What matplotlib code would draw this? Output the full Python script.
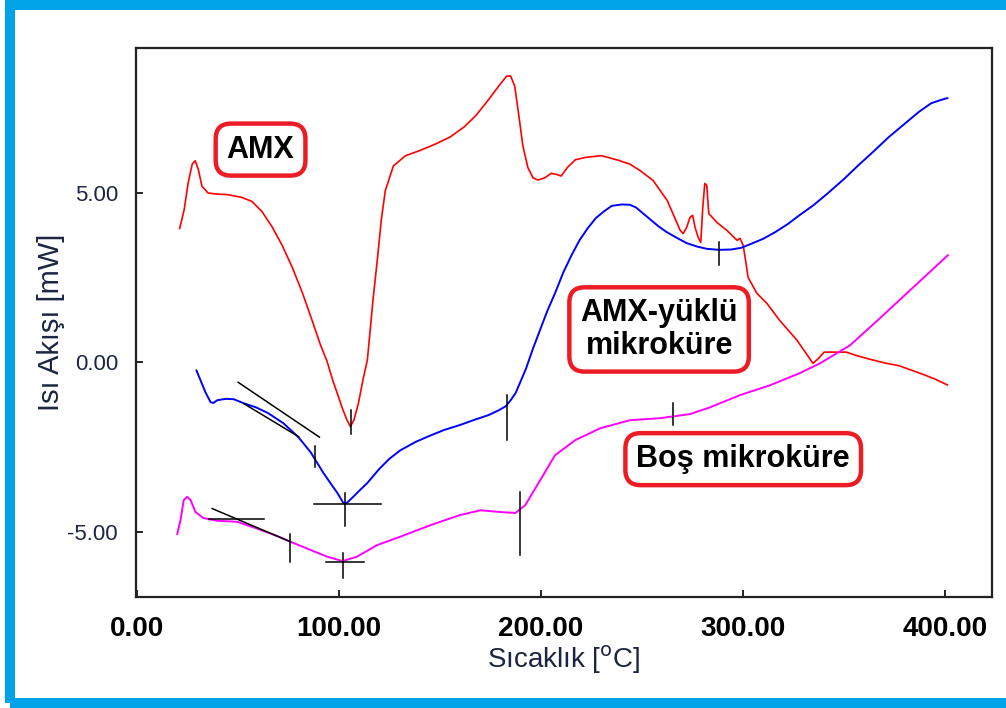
import matplotlib.pyplot as plt
from matplotlib.patches import Rectangle

# AMX (red)
amx_x = [21.3, 23.5, 25.5, 27.5, 29, 30.5, 32.3, 35.3, 39, 45, 52, 57, 62, 67, 72, 77, 82, 87, 91,
         94, 97, 100, 102, 104, 105.7, 107.5, 109.7, 112, 114.1, 115.6, 117, 119, 121, 123, 127, 133,
         140, 148, 155, 162, 168, 174, 179, 183, 185, 187, 189, 191, 193.5, 196, 198.5, 202, 205,
         207.5, 210, 213, 217, 222, 230, 238, 244, 249, 255.4, 262.4, 268.8, 270.3, 272, 273.7, 275,
         276.2, 277.7, 279, 280, 281, 282, 282.6, 283, 287, 292, 297, 298.4, 300, 301.4, 302.4, 306.7,
         311.7, 318, 326.6, 334.5, 337, 340, 346, 351, 356, 362, 370, 377, 384, 390, 395, 401]
amx_y = [3.95, 4.5, 5.3, 5.85, 5.95, 5.7, 5.2, 5.0, 4.97, 4.95, 4.87, 4.75, 4.45, 4.0, 3.45, 2.8,
         2.05, 1.2, 0.5, 0.06, -0.53, -1.05, -1.4, -1.7, -1.9, -1.7, -1.21, -0.5, 0.06, 1.0, 1.9,
         3.0, 4.2, 5.07, 5.8, 6.1, 6.25, 6.45, 6.65, 6.95, 7.3, 7.75, 8.15, 8.45, 8.45, 8.15, 7.3,
         6.4, 5.75, 5.45, 5.38, 5.45, 5.58, 5.55, 5.5, 5.75, 5.98, 6.05, 6.1, 5.97, 5.85, 5.66, 5.37,
         4.78, 3.9, 3.8, 3.98, 4.28, 4.34, 3.98, 3.69, 3.54, 4.57, 5.28, 5.22, 4.69, 4.39, 4.13, 3.89,
         3.6, 3.66, 3.45, 2.92, 2.51, 2.04, 1.74, 1.24, 0.65, -0.03, 0.1, 0.3, 0.3, 0.3, 0.2, 0.1,
         -0.02, -0.1, -0.25, -0.38, -0.5, -0.67]

# AMX-yüklü mikroküre (blue)
loaded_x = [29.6, 31.6, 34, 36.6, 38, 39.9, 44, 48, 53, 59, 65, 72.6, 80, 86, 92.4, 96, 99.3, 102.3,
            104, 107, 110, 114, 120, 125, 130.4, 138, 145, 152, 160, 167, 174, 179, 182.5, 185,
            187.5, 190, 192.5, 196, 199.5, 203, 207, 211, 215, 219, 223, 227, 231, 235, 240, 244,
            247, 250, 254, 258, 262, 267, 272, 277, 282, 288, 294, 299, 304, 310, 316, 322, 328, 335,
            342, 350, 357, 364, 372, 380, 387, 393, 398, 401]
loaded_y = [-0.24, -0.53, -0.88, -1.18, -1.2, -1.12, -1.08, -1.09, -1.21, -1.33, -1.5, -1.8, -2.21,
            -2.65, -3.27, -3.58, -3.86, -4.16, -4.15, -3.98, -3.8, -3.57, -3.15, -2.85, -2.6, -2.35,
            -2.17, -2.0, -1.85, -1.7, -1.56, -1.42, -1.3, -1.12, -0.9, -0.55, -0.2, 0.4, 0.95, 1.5,
            2.05, 2.65, 3.15, 3.6, 3.95, 4.25, 4.45, 4.62, 4.66, 4.65, 4.57, 4.42, 4.22, 4.02, 3.85,
            3.68, 3.52, 3.42, 3.35, 3.32, 3.33, 3.38, 3.5, 3.65, 3.85, 4.08, 4.35, 4.65, 5.0, 5.42,
            5.82, 6.2, 6.65, 7.05, 7.4, 7.65, 7.75, 7.8]

# Boş mikroküre (magenta)
empty_x = [20.1, 21.7, 23.3, 25, 26.7, 29.1, 33, 39.9, 49.7, 59.6, 69.5, 76.1, 84.3, 94.2, 101.9,
           109, 118.9, 130.4, 145.3, 160, 170, 179.8, 187.3, 192.2, 199.6, 207, 216.9, 229.2, 244,
           258.9, 273.7, 283.6, 298.4, 313.2, 328, 338, 352.8, 367.6, 382.4, 401.2]
empty_y = [-5.07, -4.66, -4.07, -3.97, -4.07, -4.42, -4.6, -4.68, -4.71, -4.91, -5.13, -5.3, -5.5,
           -5.74, -5.87, -5.74, -5.4, -5.15, -4.81, -4.51, -4.37, -4.42, -4.45, -4.22, -3.48, -2.74,
           -2.3, -1.95, -1.71, -1.65, -1.53, -1.33, -0.97, -0.68, -0.32, -0.03, 0.5, 1.3, 2.12, 3.16]

# black analysis marks: ((x0, x1), (y0, y1))
marks = [
    ((106, 106), (-1.42, -2.12)),
    ((50.2, 90.4), (-0.59, -2.21)),
    ((53, 80.2), (-1.22, -2.2)),
    ((88.1, 88.1), (-2.48, -3.1)),
    ((102.9, 102.9), (-3.85, -4.82)),
    ((87.6, 121), (-4.17, -4.17)),
    ((183.3, 183.3), (-0.97, -2.3)),
    ((288, 288), (3.55, 2.86)),
    ((37.4, 76.1), (-4.32, -5.3)),
    ((35.7, 62.9), (-4.64, -4.64)),
    ((76.1, 76.1), (-5.07, -5.89)),
    ((101.9, 101.9), (-5.62, -6.38)),
    ((93.7, 112.3), (-5.91, -5.91)),
    ((189.7, 189.7), (-3.83, -5.69)),
    ((265.3, 265.3), (-1.21, -1.86)),
]

labels = ["AMX", "AMX-yüklü\nmikroküre", "Boş mikroküre"]
label_x = [61.3, 258.4, 300]
label_y = [6.28, 0.97, -2.86]

x_ticks = [0, 100, 200, 300, 400]
y_ticks = [-5, 0, 5]

plt.rcParams['font.family'] = ['Liberation Sans', 'DejaVu Sans']

fig = plt.figure(figsize=(10.06, 7.08), dpi=100)
ax = fig.add_axes([0.1352, 0.1568, 0.8508, 0.7754])

ax.plot(amx_x, amx_y, color="#ff0000", lw=1.2)
ax.plot(loaded_x, loaded_y, color="#0000ff", lw=1.4)
ax.plot(empty_x, empty_y, color="#ff00ff", lw=1.4)
for xs, ys in marks:
    ax.plot(xs, ys, color="black", lw=1.1)

for txt, lx, ly in zip(labels, label_x, label_y):
    ax.text(lx, ly, txt, ha="center", va="center", fontsize=22, fontweight="bold",
            color="black", linespacing=1.1,
            bbox=dict(boxstyle="round,pad=0.36,rounding_size=0.5", fc="white",
                      ec="#ed1c24", lw=3.2))

ax.set_xlim(-0.3, 423)
ax.set_ylim(-6.93, 9.28)
ax.set_xticks(x_ticks)
ax.set_xticklabels([f"{v:.2f}" for v in x_ticks], fontsize=20, fontweight="bold")
ax.set_yticks(y_ticks)
ax.set_yticklabels([f"{v:.2f}" for v in y_ticks], fontsize=16, color="#1c2541")
ax.tick_params(direction="in", length=5, width=1.2, top=False, right=False)
ax.tick_params(axis="x", pad=14)
ax.tick_params(axis="y", pad=13)
for s in ax.spines.values():
    s.set_linewidth(1.6)
    s.set_color("#222222")

ax.set_xlabel("Sıcaklık [$^{\\mathrm{o}}$C]", fontsize=20, color="#1c2541", labelpad=1)
ax.set_ylabel("Isı Akışı [mW]", fontsize=21, color="#1c2541", labelpad=2)

# blue frame around the picture (open on the right)
fig.patches.append(Rectangle((10 / 1006, 5 / 708), 1.1, 698 / 708, transform=fig.transFigure,
                             fill=False, ec="#00a2e8", lw=7.2, figure=fig))

fig.savefig("out.png", dpi=100)
